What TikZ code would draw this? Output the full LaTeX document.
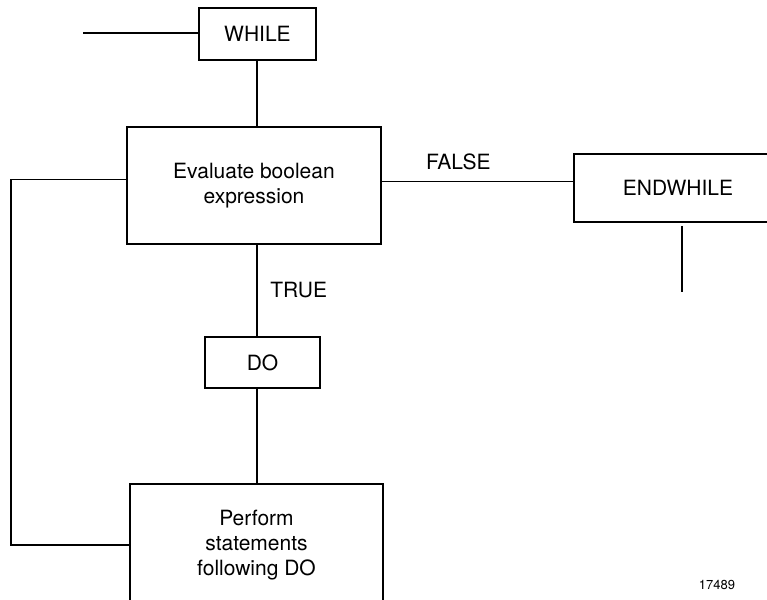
\documentclass[tikz,border=0pt]{standalone}
\usepackage{fontspec}
\setmainfont{TeX Gyre Heros}

\begin{document}
\begin{tikzpicture}[x=0.5pt, y=-0.5pt,
    box/.style={draw, line width=0.9pt, rectangle, align=center,
                font=\fontsize{10.5}{12.5}\selectfont},
    link/.style={line width=0.6pt},
    tag/.style={font=\fontsize{10.5}{12.5}\selectfont}]
    \useasboundingbox (0,0) rectangle (767,600);
    \clip (0,0) rectangle (767,600);

    % the blocks of the loop
    \node[box, minimum width=58.5pt, minimum height=26pt] (while) at (257.5,34) {WHILE};
    \node[box, minimum width=127pt, minimum height=58.5pt] (eval) at (254,185.5) {Evaluate boolean\\expression};
    \node[box, minimum width=104pt, minimum height=34pt] (endwhile) at (678,188) {ENDWHILE};
    \node[box, minimum width=57.5pt, minimum height=25.5pt] (do) at (262.5,362.5) {DO};
    \node[box, minimum width=126.5pt, minimum height=61pt] (perform) at (256.5,545) {Perform\\statements\\following DO};

    \coordinate (entry) at (83,33);
    \coordinate (spine) at (257,0);
    \coordinate (back) at (11,0);
    \coordinate (exit) at (682,292);

    % flow lines
    \draw[link] (entry) -- (entry -| while.west);
    \draw[link] (spine |- while.south) -- (spine |- eval.north);
    \draw[link] ([yshift=2pt]eval.east) -- ([yshift=2pt]eval.east -| endwhile.west)
        node[tag, above=2pt, pos=0.4] (false) {FALSE};
    \draw[link] (spine |- eval.south) -- (spine |- do.north)
        node[tag, right=3pt, pos=0.5] (true) {TRUE};
    \draw[link] (spine |- do.south) -- (spine |- perform.north);
    \draw[link] ([yshift=-1.5pt]endwhile.south -| exit) -- (exit);

    % loop back to the test
    \draw[link] (perform.west) -- (perform.west -| back)
        -- ([yshift=3pt]eval.west -| back) -- ([yshift=3pt]eval.west);

    \node[font=\fontsize{6.5}{8}\selectfont] (fig) at (717,585) {17489};
\end{tikzpicture}
\end{document}
